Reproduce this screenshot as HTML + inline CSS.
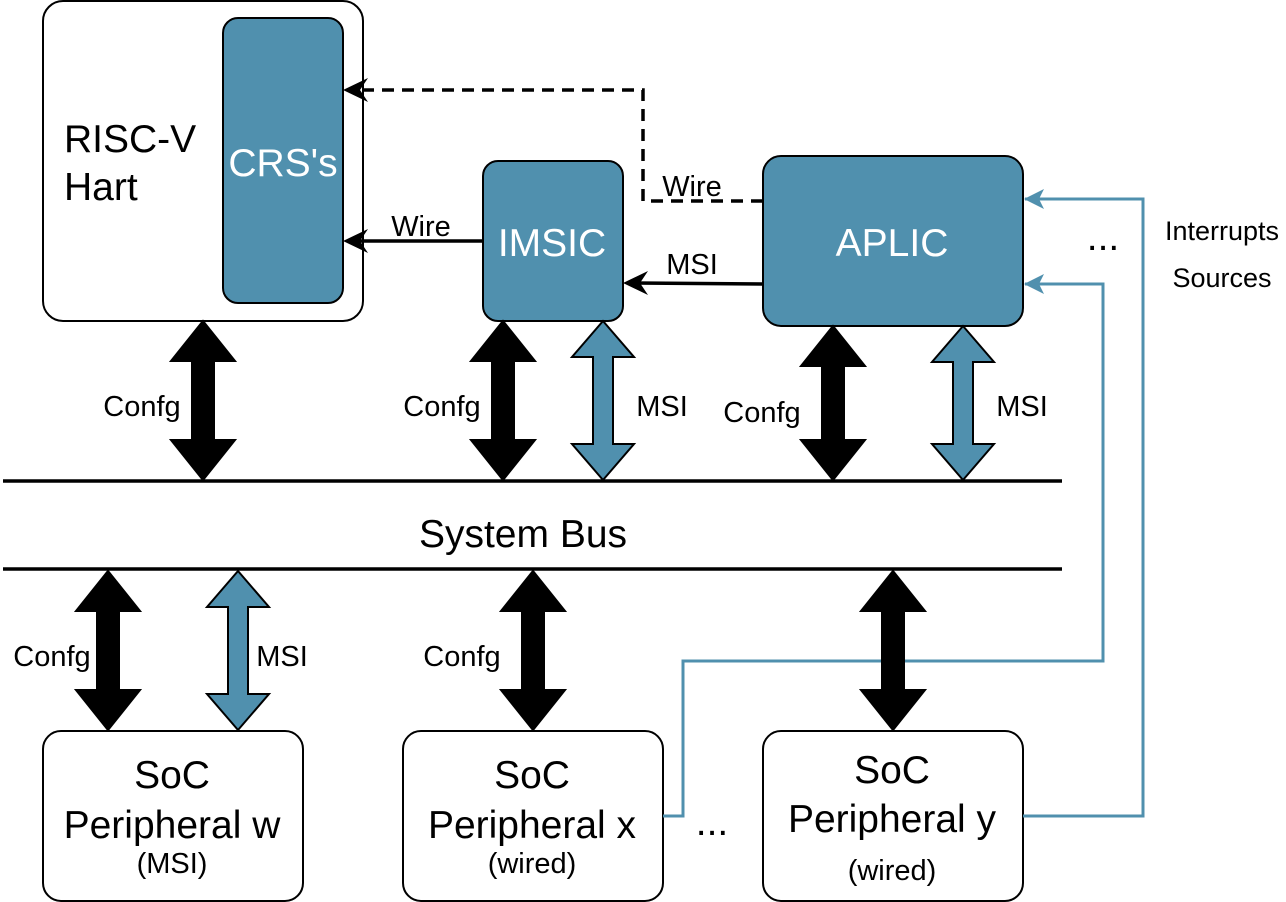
<!DOCTYPE html>
<html><head><style>body{margin:0;background:#fff}svg{display:block}text{font-family:"Liberation Sans",sans-serif}.b{font-size:39px !important}.s{font-size:29px !important}.i{font-size:27px !important}</style></head><body>
<svg width="1286" height="902" viewBox="0 0 1286 902" xmlns="http://www.w3.org/2000/svg">
<g stroke="#000" stroke-width="2">
<rect x="43" y="1" width="320" height="320" rx="20" fill="#fff"/>
<rect x="223" y="18" width="120" height="285" rx="15" fill="#5090ae"/>
<rect x="483" y="161" width="140" height="160" rx="15" fill="#5090ae"/>
<rect x="763" y="156" width="260" height="170" rx="18" fill="#5090ae"/>
<rect x="43" y="731" width="260" height="170" rx="18" fill="#fff"/>
<rect x="403" y="731" width="260" height="170" rx="18" fill="#fff"/>
<rect x="763" y="731" width="260" height="170" rx="18" fill="#fff"/>
</g>
<line x1="3" y1="481" x2="1062" y2="481" stroke="#000" stroke-width="3.5"/>
<line x1="3" y1="569" x2="1062" y2="569" stroke="#000" stroke-width="3.5"/>
<polyline points="763,201 643,201 643,90 357,90" fill="none" stroke="#000" stroke-width="3.5" stroke-dasharray="12,8"/>
<path d="M343,90 L368,78 L360,90 L368,102 Z" fill="#000"/>
<line x1="483" y1="241" x2="355" y2="241" stroke="#000" stroke-width="3.5"/>
<path d="M343,241 L368,229 L360,241 L368,253 Z" fill="#000"/>
<line x1="763" y1="284" x2="635" y2="283" stroke="#000" stroke-width="3.5"/>
<path d="M623,283 L648,271 L640,283 L648,295 Z" fill="#000"/>
<g fill="none" stroke="#5090ae" stroke-width="3">
<polyline points="663,816 683,816 683,661 1103,661 1103,284 1025,284"/>
<polyline points="1023,816 1143,816 1143,199 1025,199"/>
</g>
<path d="M1024,199 L1044,189 L1039,199 L1044,209 Z" fill="#5090ae"/>
<path d="M1024,284 L1044,274 L1039,284 L1044,294 Z" fill="#5090ae"/>
<g stroke="#000" stroke-width="2">
<path d="M203,321 L235,361 L214,361 L214,440 L235,440 L203,480 L171,440 L192,440 L192,361 L171,361 Z" fill="#000"/>
<path d="M503,321 L535,361 L514,361 L514,440 L535,440 L503,480 L471,440 L492,440 L492,361 L471,361 Z" fill="#000"/>
<path d="M833,326 L865,366 L844,366 L844,440 L865,440 L833,480 L801,440 L822,440 L822,366 L801,366 Z" fill="#000"/>
<path d="M108,571 L140,611 L119,611 L119,690 L140,690 L108,730 L76,690 L97,690 L97,611 L76,611 Z" fill="#000"/>
<path d="M533,571 L565,611 L544,611 L544,690 L565,690 L533,730 L501,690 L522,690 L522,611 L501,611 Z" fill="#000"/>
<path d="M893,571 L925,611 L904,611 L904,690 L925,690 L893,730 L861,690 L882,690 L882,611 L861,611 Z" fill="#000"/>
<path d="M603,321 L634,357 L613,357 L613,444 L634,444 L603,480 L572,444 L593,444 L593,357 L572,357 Z" fill="#5090ae"/>
<path d="M963,326 L994,362 L973,362 L973,444 L994,444 L963,480 L932,444 L953,444 L953,362 L932,362 Z" fill="#5090ae"/>
<path d="M238,571 L269,607 L248,607 L248,694 L269,694 L238,730 L207,694 L228,694 L228,607 L207,607 Z" fill="#5090ae"/>
</g>
<text class="b" x="64" y="152">RISC-V</text>
<text class="b" x="64" y="200">Hart</text>
<text class="b" x="283" y="176" fill="#fff" text-anchor="middle">CRS's</text>
<text class="b" x="552" y="256" fill="#fff" text-anchor="middle">IMSIC</text>
<text class="b" x="892" y="256" fill="#fff" text-anchor="middle">APLIC</text>
<text class="b" x="523" y="547" text-anchor="middle">System Bus</text>
<text class="b" x="172" y="788" text-anchor="middle">SoC</text>
<text class="b" x="172" y="838" text-anchor="middle">Peripheral w</text>
<text class="b" x="532" y="788" text-anchor="middle">SoC</text>
<text class="b" x="532" y="838" text-anchor="middle">Peripheral x</text>
<text class="b" x="892" y="783" text-anchor="middle">SoC</text>
<text class="b" x="892" y="832" text-anchor="middle">Peripheral y</text>
<text class="s" x="172" y="873" text-anchor="middle">(MSI)</text>
<text class="s" x="532" y="873" text-anchor="middle">(wired)</text>
<text class="s" x="892" y="880" text-anchor="middle">(wired)</text>
<text class="s" x="421" y="236" text-anchor="middle">Wire</text>
<text class="s" x="692" y="196" text-anchor="middle">Wire</text>
<text class="s" x="692" y="274" text-anchor="middle">MSI</text>
<text class="s" x="142" y="416" text-anchor="middle">Confg</text>
<text class="s" x="442" y="416" text-anchor="middle">Confg</text>
<text class="s" x="662" y="416" text-anchor="middle">MSI</text>
<text class="s" x="762" y="422" text-anchor="middle">Confg</text>
<text class="s" x="1022" y="416" text-anchor="middle">MSI</text>
<text class="s" x="52" y="666" text-anchor="middle">Confg</text>
<text class="s" x="282" y="666" text-anchor="middle">MSI</text>
<text class="s" x="462" y="666" text-anchor="middle">Confg</text>
<text class="i" x="1222" y="240" text-anchor="middle">Interrupts</text>
<text class="i" x="1222" y="287" text-anchor="middle">Sources</text>
<text class="b" x="1103" y="250" text-anchor="middle">...</text>
<text class="b" x="712" y="835" text-anchor="middle">...</text>
</svg>
</body></html>
